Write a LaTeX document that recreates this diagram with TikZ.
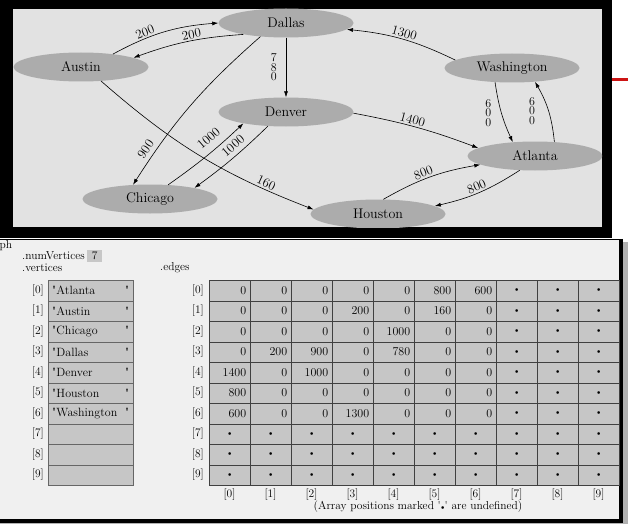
\documentclass[tikz,border=0pt]{standalone}
\usetikzlibrary{shapes.geometric,arrows.meta,positioning}
\definecolor{sfondo}{RGB}{226,226,226}
\definecolor{ellisse}{RGB}{172,172,172}
\definecolor{pannello}{RGB}{240,240,240}
\definecolor{cella}{RGB}{198,198,198}
\definecolor{rosso}{RGB}{205,20,20}
\newcommand{\puntino}{\makebox[33pt][c]{$\scriptscriptstyle\bullet$}}
\begin{document}
\begin{tikzpicture}[x=1pt,y=-1pt,
        citta/.style={
            ellipse,
            fill=ellisse,
            minimum width=135pt,
            minimum height=29pt,
            inner sep=0pt,
            font=\fontsize{14}{16}\selectfont
        },
        arco/.style={-{Latex[length=6pt,width=4pt]}, line width=0.6pt},
        peso/.style={font=\fontsize{13}{15}\selectfont, inner sep=1.5pt},
        pila/.style={font=\fontsize{12}{9.5}\selectfont, align=center, inner sep=0pt},
        testo/.style={font=\fontsize{11.5}{14}\selectfont, inner sep=0pt},
        vcella/.style={
            anchor=north west,
            draw=black!60,
            fill=cella,
            minimum width=85pt,
            minimum height=20.5pt,
            inner sep=4pt,
            font=\fontsize{12}{14}\selectfont
        },
        mcella/.style={
            anchor=north west,
            draw=black!75,
            fill=cella,
            minimum width=41pt,
            minimum height=20.5pt,
            inner sep=4pt,
            font=\fontsize{12}{14}\selectfont
        }
    ]
        \useasboundingbox (0,0) rectangle (628,524);

        % Cornice del grafo
        \fill[black] (0,0) rectangle (612,238);
        \fill[sfondo] (13,9) rectangle (602,227);
        \draw[rosso, line width=3pt] (612,80) -- (628,80);

        % Citta
        \begin{scope}
            \clip (13,9) rectangle (602,227);
            \node[citta] (dallas) at (286,23) {Dallas};
            \node[citta] (austin) at (81,67) {Austin};
            \node[citta] (denver) at (286,112) {Denver};
            \node[citta] (chicago) at (150,199) {Chicago};
            \node[citta] (houston) at (378,214) {Houston};
            \node[citta] (washington) at (512,68) {Washington};
            \node[citta] (atlanta) at (535,156) {Atlanta};

            % Archi pesati
            \draw[arco] (austin.22) to[bend left=12] node[peso, sloped, above, pos=0.33] {200} (dallas.west);
            \draw[arco] (dallas.195) to[bend right=8] node[peso, sloped, above, pos=0.45] {200} (austin.10);
            \draw[arco] (dallas) -- node[pila, left=9pt] {7\\8\\0} (denver);
            \draw[arco] (dallas.208) to[bend right=8] node[peso, sloped, above=3pt, pos=0.83] {900} (chicago.140);
            \draw[arco] (chicago.38) to[bend right=4] node[peso, sloped, above=6pt, pos=0.64] {1000} (denver.195);
            \draw[arco] (denver.218) to[bend left=4] node[peso, sloped, above=3pt, pos=0.4] {1000} (chicago.14);
            \draw[arco] (austin.-35) to[bend right=10] node[peso, sloped, above, pos=0.8] {160} (houston.176);
            \draw[arco] (washington.172) to[bend right=10] node[peso, sloped, above] {1300} (dallas.-6);
            \draw[arco] (denver.-1) to[bend left=5] node[peso, sloped, above, pos=0.45] {1400} (atlanta.172);
            \draw[arco] (washington.220) to[bend right=8] node[pila, left=10pt] {6\\0\\0} (atlanta.148);
            \draw[arco] (atlanta.36) to[bend right=12] node[pila, left=13pt] {6\\0\\0} (washington.-31);
            \draw[arco] (houston.70) to[bend left=10] node[peso, sloped, above, pos=0.45] {800} (atlanta.189);
            \draw[arco] (atlanta.223) to[bend left=10] node[peso, sloped, above] {800} (houston.8);
        \end{scope}

        % Pannello della struttura
        \fill[black!30] (623,242) rectangle (628,524);
        \fill[black!30] (0,523) rectangle (628,524);
        \fill[pannello] (0,239) rectangle (621,521);
        \draw[line width=1.5pt] (0,239.5) -- (621,239.5);
        \draw[line width=4pt] (621,238.8) -- (621,521) -- (0,521);

        \node[testo, anchor=west] (grafo) at (-0.5,246) {ph};
        \node[testo, anchor=west] (numv) at (22,256) {.numVertices};
        \node[testo, fill=black!22, minimum width=15pt, minimum height=12pt, right=2pt of numv] (nv) {7};
        \node[testo, anchor=west] (vert) at (22,268) {.vertices};
        \node[testo, anchor=west] (edg) at (160,268) {.edges};

        % Vettore dei vertici
        \foreach \nome [count=\i from 0] in {Atlanta, Austin, Chicago, Dallas, Denver, Houston, Washington} {
            \node[vcella] (v\i) at (48, 280+\i*20.5) {\makebox[77pt][l]{\textquotedbl\nome\hfill\textquotedbl}};
        }
        \foreach \i in {7,8,9} {
            \node[vcella] (v\i) at (48, 280+\i*20.5) {};
        }

        % Matrice degli archi
        \foreach \riga [count=\r from 0] in {
            {0,0,0,0,0,800,600,\puntino,\puntino,\puntino},
            {0,0,0,200,0,160,0,\puntino,\puntino,\puntino},
            {0,0,0,0,1000,0,0,\puntino,\puntino,\puntino},
            {0,200,900,0,780,0,0,\puntino,\puntino,\puntino},
            {1400,0,1000,0,0,0,0,\puntino,\puntino,\puntino},
            {800,0,0,0,0,0,0,\puntino,\puntino,\puntino},
            {600,0,0,1300,0,0,0,\puntino,\puntino,\puntino},
            {\puntino,\puntino,\puntino,\puntino,\puntino,\puntino,\puntino,\puntino,\puntino,\puntino},
            {\puntino,\puntino,\puntino,\puntino,\puntino,\puntino,\puntino,\puntino,\puntino,\puntino},
            {\puntino,\puntino,\puntino,\puntino,\puntino,\puntino,\puntino,\puntino,\puntino,\puntino}} {
            \foreach \v [count=\c from 0] in \riga {
                \node[mcella] (m\r-\c) at (209+\c*41, 280+\r*20.5) {\makebox[33pt][r]{\v}};
            }
        }

        % Indici
        \foreach \i in {0,...,9} {
            \node[testo, anchor=east] (iv\i) at (44, 290.25+\i*20.5) {[\i]};
            \node[testo, anchor=east] (ie\i) at (204, 290.25+\i*20.5) {[\i]};
            \node[testo] (ic\i) at (229.5+\i*41, 495) {[\i]};
        }
        \node[testo] (nota) at (418,507) {(Array positions marked \textquotesingle$\scriptscriptstyle\bullet$\textquotesingle\ are undefined)};
    \end{tikzpicture}
\end{document}
